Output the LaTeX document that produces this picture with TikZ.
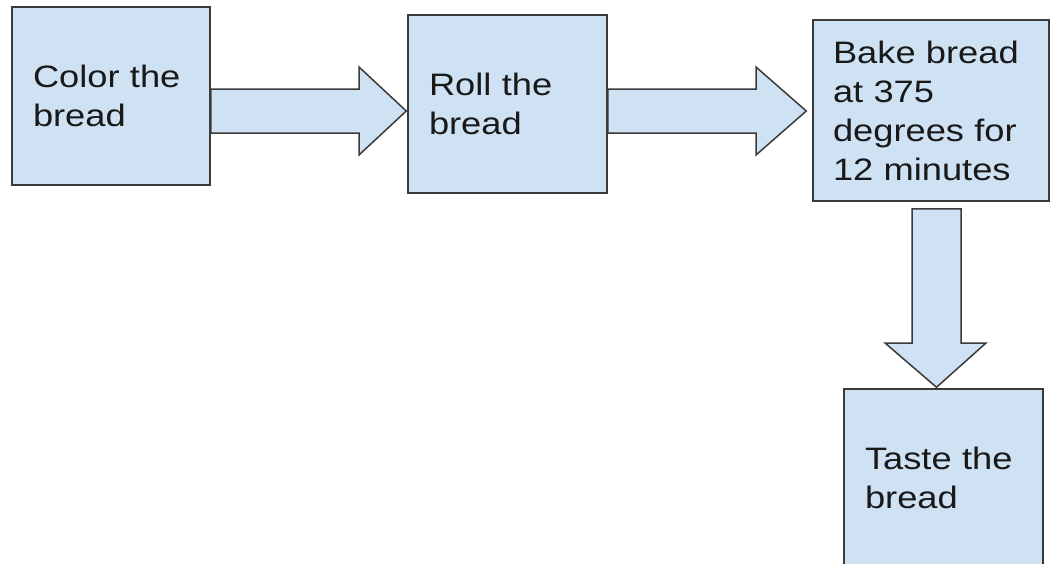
\documentclass[tikz,border=0pt]{standalone}
\usepackage{fontspec}
\setmainfont{Liberation Sans}[FakeStretch=1.17]
\usetikzlibrary{calc}
\definecolor{boxfill}{HTML}{CFE2F3}
\definecolor{boxline}{HTML}{3A3A3A}
\begin{document}
\begin{tikzpicture}[x=1pt,y=-1pt,
  box/.style={draw=boxline, fill=boxfill, line width=1.5pt, inner xsep=21pt, inner ysep=0pt,
    align=left, font=\fontsize{31}{39}\selectfont, text=black!90, minimum height=178pt},
  blockarrow/.style={draw=boxline, fill=boxfill, line width=1.5pt, line join=miter}]
\useasboundingbox (0,0) rectangle (1050,563);
\node[box, text width=156pt] (b1) at (111,96) {Color the\\bread};
\node[box, text width=157pt] (b2) at (507.5,104) {Roll the\\bread};
\node[box, text width=196pt, inner xsep=20pt, minimum height=181pt] (b3) at (931,110.5) {Bake bread\\at 375\\degrees for\\12 minutes};
\node[box, text width=157pt] (b4) at (943.5,478) {Taste the\\bread};
\coordinate (r1) at (0,111);
\coordinate (c1) at (936.5,0);
% arrow 1
\draw[blockarrow] ($(b1.east|-r1)+(0,-22)$) -- (359,89) -- (359,67) -- ($(b2.west|-r1)+(-1,0)$)
  -- (359,155) -- (359,133) -- ($(b1.east|-r1)+(0,22)$) -- cycle;
% arrow 2
\draw[blockarrow] ($(b2.east|-r1)+(0,-22)$) -- (756,89) -- (756,67) -- ($(b3.west|-r1)+(-6,0)$)
  -- (756,155) -- (756,133) -- ($(b2.east|-r1)+(0,22)$) -- cycle;
% arrow 3
\draw[blockarrow] ($(b3.south-|c1)+(-24.5,7)$) -- (912,343) -- (885,343) -- ($(b4.north-|c1)+(0,-1)$)
  -- (986,343) -- (961,343) -- ($(b3.south-|c1)+(24.5,7)$) -- cycle;
\end{tikzpicture}
\end{document}
